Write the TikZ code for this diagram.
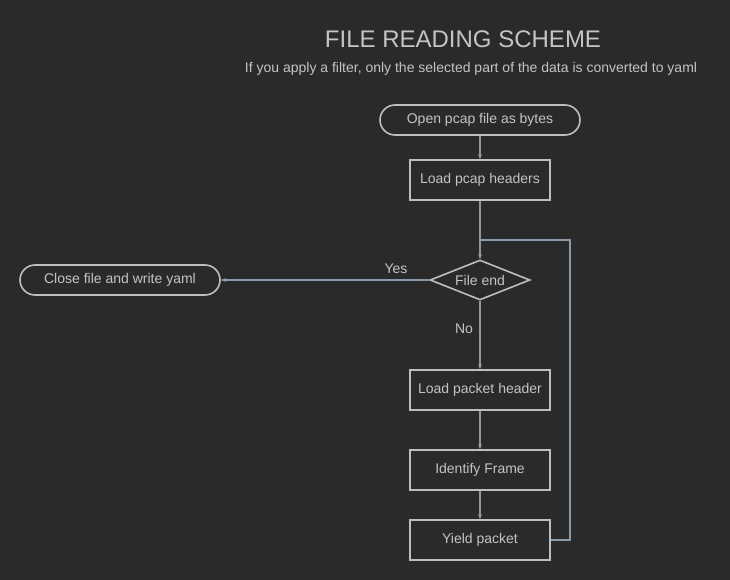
\documentclass[tikz,border=0pt]{standalone}
\usepackage{fontspec}
\setmainfont{Liberation Sans}
\usetikzlibrary{arrows.meta,shapes.geometric}
\definecolor{bgc}{HTML}{2A2A2A}
\definecolor{bord}{HTML}{BEBEBE}
\definecolor{txt}{HTML}{C4C4C4}
\definecolor{conn}{HTML}{8C9AA8}
\tikzset{
  base/.style={draw=bord, line width=1.6pt, text=txt, font=\fontsize{14}{16}\selectfont, inner sep=0pt, anchor=center},
  pill/.style={base, rounded corners=15pt, minimum width=200pt, minimum height=30pt},
  boxnode/.style={base, rectangle, minimum width=140pt, minimum height=40pt},
  decision/.style={base, diamond, aspect=2.5, minimum width=100pt, minimum height=40pt},
  conline/.style={draw=conn, line width=1.3pt},
  arr/.style={conline, -{Stealth[length=5pt,width=4pt]}},
  lbl/.style={text=txt, font=\fontsize{14}{16}\selectfont, inner sep=0pt},
}
\begin{document}
\begin{tikzpicture}[x=1pt,y=-1pt]
\fill[bgc] (0,0) rectangle (730,580);
\useasboundingbox (0,0) rectangle (730,580);
\node[lbl, font=\fontsize{24}{28}\selectfont] (title) at (463,39) {FILE READING SCHEME};
\node[lbl] (sub) at (471,69) {If you apply a filter, only the selected part of the data is converted to yaml};
\node[pill] (open) at (480,120) {Open pcap file as bytes};
\node[boxnode] (load) at (480,180) {Load pcap headers};
\node[decision] (fend) at (480,280) {File end};
\node[pill] (close) at (120,280) {Close file and write yaml};
\node[boxnode] (lph) at (480,390) {Load packet header};
\node[boxnode] (ident) at (480,470) {Identify Frame};
\node[boxnode] (yield) at (480,540) {Yield packet};
\coordinate (j) at (480,240);
\coordinate (c1) at (570,540);
\coordinate (c2) at (570,240);
\draw[arr] (open) -- (load);
\draw[arr] (load) -- (fend.north);
\draw[arr] (fend.west) -- (close.east);
\draw[arr] (fend.south) -- (lph.north);
\draw[arr] (lph) -- (ident);
\draw[arr] (ident) -- (yield);
\draw[conline] (yield.east) -- (c1) -- (c2) -- (j);
\node[lbl] (yes) at (396,269) {Yes};
\node[lbl] (no) at (464,329) {No};
\end{tikzpicture}
\end{document}
